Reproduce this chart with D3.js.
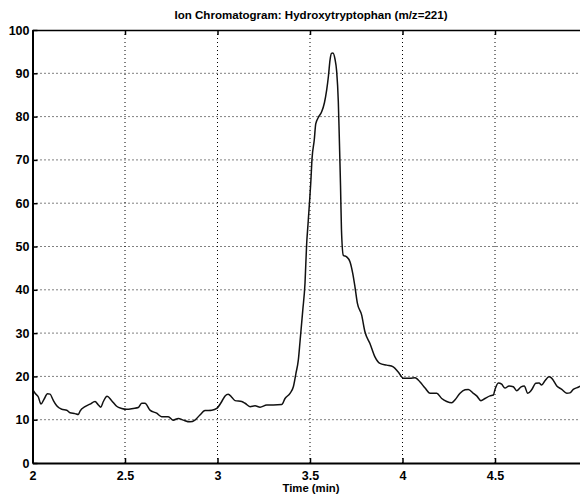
<!DOCTYPE html>
<html>
<head>
<meta charset="utf-8">
<script src="https://cdn.jsdelivr.net/npm/d3@7"></script>
<style>
body{margin:0;background:#fff;}
text{font-family:"Liberation Sans",Arial,Helvetica,sans-serif;}
</style>
</head>
<body>
<div id="chart"></div>
<script>
// retention time (min) and relative intensity
var timeMin = [2.003,2.014,2.031,2.046,2.062,2.081,2.095,2.112,2.131,2.158,2.185,2.203,2.230,2.248,2.257,2.284,2.311,2.338,2.356,2.369,
  2.383,2.403,2.428,2.455,2.482,2.509,2.545,2.572,2.590,2.608,2.635,2.671,2.698,2.734,2.761,2.788,2.815,2.851,2.878,2.905,
  2.932,2.969,2.996,3.023,3.041,3.058,3.077,3.095,3.131,3.149,3.176,3.203,3.230,3.266,3.302,3.347,3.365,3.392,3.410,3.424,
  3.437,3.446,3.461,3.473,3.482,3.489,3.497,3.504,3.511,3.523,3.531,3.545,3.563,3.578,3.590,3.600,3.608,3.616,3.624,3.635,
  3.644,3.653,3.658,3.662,3.665,3.670,3.680,3.698,3.716,3.731,3.743,3.756,3.779,3.797,3.824,3.851,3.878,3.915,3.950,3.977,
  4.004,4.041,4.068,4.095,4.122,4.149,4.185,4.212,4.239,4.266,4.284,4.311,4.338,4.356,4.383,4.401,4.424,4.446,4.473,4.491,
  4.500,4.518,4.536,4.554,4.576,4.599,4.617,4.641,4.658,4.677,4.698,4.720,4.738,4.752,4.770,4.792,4.806,4.834,4.861,4.888,
  4.905,4.923,4.950,4.965];
var intensity = [16.8,16.1,15.3,13.6,14.7,16.0,15.9,14.5,13.2,12.4,12.2,11.6,11.4,11.2,12.0,13.0,13.6,14.2,13.4,12.9,
  14.2,15.4,14.4,13.1,12.6,12.4,12.6,12.8,13.8,13.8,12.2,11.5,10.7,10.7,9.9,10.3,9.9,9.5,9.9,11.1,
  12.1,12.2,12.6,14.2,15.5,15.9,15.2,14.4,14.2,13.8,13.0,13.2,12.9,13.4,13.4,13.5,14.9,16.1,17.6,20.7,
  23.8,28.0,35.3,41.5,50.7,55.0,60.0,64.6,70.3,74.6,78.3,79.8,81.1,83.2,86.1,89.5,93.0,94.6,94.7,93.3,
  90.5,83.5,75.8,69.2,64.0,54.0,48.0,47.6,46.5,43.8,40.7,36.9,34.2,30.3,27.6,24.5,23.0,22.6,22.2,21.0,
  19.6,19.6,19.7,18.7,17.3,16.1,16.1,14.9,14.2,13.9,14.6,16.1,16.9,17.0,16.1,15.5,14.4,14.9,15.5,15.7,
  17.0,18.5,18.2,17.3,17.8,17.6,16.7,17.6,17.8,16.1,16.9,18.4,18.5,18.0,19.0,19.9,19.6,17.8,17.0,16.1,
  16.2,17.0,17.5,17.8];
var xTicks = [2,2.5,3,3.5,4,4.5];
var yTicks = [0,10,20,30,40,50,60,70,80,90,100];
var titleText = "Ion Chromatogram: Hydroxytryptophan (m/z=221)";
var xLabel = "Time (min)";

var width = 580, height = 495;
var margin = {top:30, right:-7.5, bottom:32, left:32.5};
var iw = width - margin.left - margin.right;
var ih = height - margin.top - margin.bottom;

var svg = d3.select("#chart").append("svg")
  .attr("width", width)
  .attr("height", height);

var g = svg.append("g").attr("transform","translate("+margin.left+","+margin.top+")");

// x runs to 5 min, the right edge falls just past the picture
var x = d3.scaleLinear().domain([2,5]).range([0, iw]);
var y = d3.scaleLinear().domain([0,100]).range([ih, 0]);

// dotted grid
g.append("g").selectAll("line.hg")
  .data(yTicks.filter(function(d){return d>0 && d<100;}))
  .enter().append("line")
  .attr("x1",0).attr("x2",iw)
  .attr("y1",function(d){return y(d);}).attr("y2",function(d){return y(d);})
  .attr("stroke","#000").attr("stroke-width",1).attr("stroke-dasharray","1,3");
g.append("g").selectAll("line.vg")
  .data(xTicks.filter(function(d){return d>2;}))
  .enter().append("line")
  .attr("y1",0).attr("y2",ih)
  .attr("x1",function(d){return x(d);}).attr("x2",function(d){return x(d);})
  .attr("stroke","#000").attr("stroke-width",1).attr("stroke-dasharray","1,3");

// the trace
var points = timeMin.map(function(t,i){return [t, intensity[i]];});
var line = d3.line()
  .x(function(d){return x(d[0]);})
  .y(function(d){return y(d[1]);})
  .curve(d3.curveMonotoneX);
g.append("path")
  .datum(points)
  .attr("fill","none")
  .attr("stroke","#111")
  .attr("stroke-width",1.5)
  .attr("stroke-linejoin","round")
  .attr("d", line);

// axes, matlab style ticks pointing inward
var xAxis = d3.axisBottom(x).tickValues(xTicks).tickSizeInner(-5).tickSizeOuter(0).tickPadding(8)
  .tickFormat(function(d){return String(d);});
var yAxis = d3.axisLeft(y).tickValues(yTicks).tickSizeInner(-5).tickSizeOuter(0).tickPadding(3)
  .tickFormat(function(d){return String(d);});
var topAxis = d3.axisTop(x).tickValues(xTicks).tickSizeInner(-5).tickSizeOuter(0).tickFormat("");

var gx = g.append("g").attr("transform","translate(0,"+ih+")").call(xAxis);
var gy = g.append("g").call(yAxis);
var gt = g.append("g").call(topAxis);

[gx,gy,gt].forEach(function(a){
  a.select(".domain").attr("stroke","#000").attr("stroke-width",2);
  a.selectAll(".tick line").attr("stroke","#000").attr("stroke-width",1.5);
  a.selectAll("text").attr("fill","#000").style("font-size","12.5px").style("font-weight","bold");
});
gt.select(".domain").attr("stroke-width",1.5);

svg.append("text")
  .attr("x", 311).attr("y", 19)
  .attr("text-anchor","middle")
  .attr("textLength",273).attr("lengthAdjust","spacingAndGlyphs")
  .style("font-size","11.5px").style("font-weight","bold")
  .text(titleText);

svg.append("text")
  .attr("x", 311).attr("y", 492)
  .attr("text-anchor","middle")
  .attr("textLength",57).attr("lengthAdjust","spacingAndGlyphs")
  .style("font-size","11.5px").style("font-weight","bold")
  .text(xLabel);
</script>
</body>
</html>
